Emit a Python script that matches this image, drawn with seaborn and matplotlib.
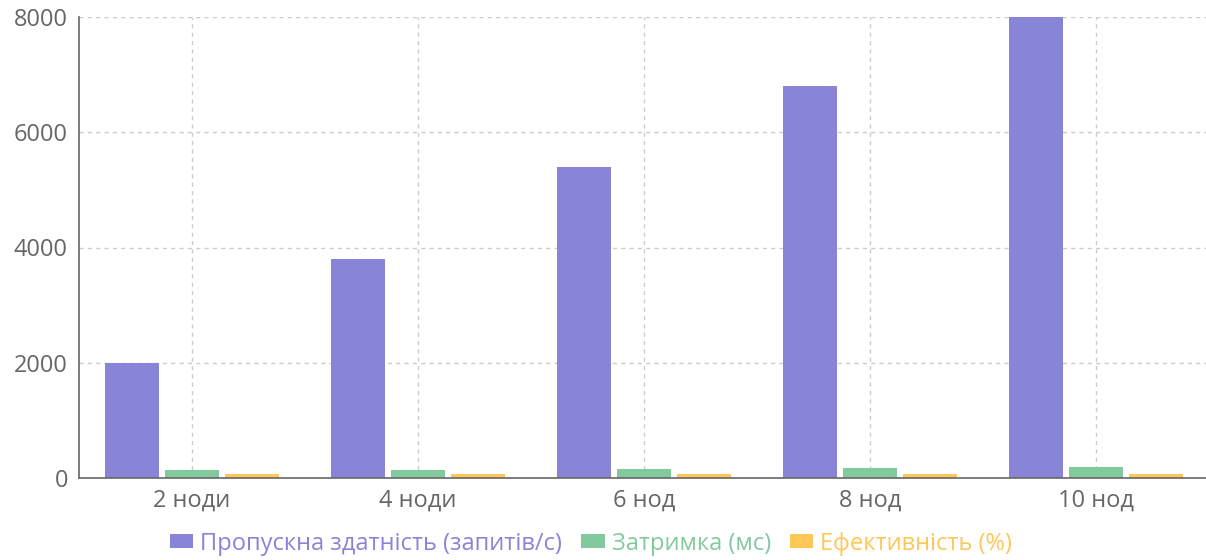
import matplotlib
matplotlib.use("Agg")
import matplotlib.pyplot as plt
from matplotlib.patches import Patch
import seaborn as sns
import pandas as pd

# Cluster scaling benchmark
categories = ["2 ноди", "4 ноди", "6 нод", "8 нод", "10 нод"]
throughput = [2000, 3800, 5400, 6800, 8000]      # запитів/с
latency = [140, 145, 150, 170, 190]              # мс
efficiency = [75, 72, 68, 65, 62]                # %

series_names = ["Пропускна здатність (запитів/с)", "Затримка (мс)", "Ефективність (%)"]
series_colors = ["#8884d8", "#82ca9d", "#ffc658"]
y_ticks = [0, 2000, 4000, 6000, 8000]

rows = []
for name, values in zip(series_names, [throughput, latency, efficiency]):
    for cat, v in zip(categories, values):
        rows.append({"cat": cat, "series": name, "value": v})
df = pd.DataFrame(rows)

sns.set_theme(style="white")
plt.rcParams["font.family"] = ["Open Sans", "DejaVu Sans"]

fig = plt.figure(figsize=(12.06, 5.6), dpi=100)
ax = fig.add_axes([79 / 1206, 82 / 560, 1130 / 1206, 461 / 560])

sns.barplot(
    data=df, x="cat", y="value", hue="series", order=categories,
    hue_order=series_names, palette=series_colors, saturation=1,
    width=0.8, gap=0.1, linewidth=0, legend=False, ax=ax, zorder=3,
)

ax.set_xlim(-0.5, len(categories) - 0.5)
ax.set_ylim(0, 8000)
ax.set_yticks(y_ticks)
ax.set_yticklabels([str(t) for t in y_ticks])
ax.set_xlabel("")
ax.set_ylabel("")

grid_kw = dict(color="#cccccc", linestyle=(0, (3, 3)), linewidth=1)
ax.grid(False)
for t in y_ticks[1:]:
    ax.axhline(t, zorder=0, **grid_kw)
for i in range(len(categories)):
    ax.axvline(i, zorder=0, **grid_kw)

for side in ["top", "right"]:
    ax.spines[side].set_visible(False)
for side in ["left", "bottom"]:
    ax.spines[side].set_color("#666666")
    ax.spines[side].set_linewidth(1.2)
    ax.spines[side].set_zorder(4)

ax.tick_params(axis="both", colors="#666666", labelcolor="#666666",
               length=7, width=1, labelsize=17, direction="out")
ax.tick_params(axis="y", pad=1)
ax.tick_params(axis="x", pad=1)

handles = [Patch(facecolor=c, edgecolor="none") for c in series_colors]
fig.legend(handles, series_names, loc="lower center", bbox_to_anchor=(0.49, -0.03),
           ncol=3, frameon=False, fontsize=17, labelcolor=series_colors,
           handlelength=1.0, handleheight=0.55, handletextpad=0.3, columnspacing=0.8)

fig.savefig("out.png", dpi=100)
